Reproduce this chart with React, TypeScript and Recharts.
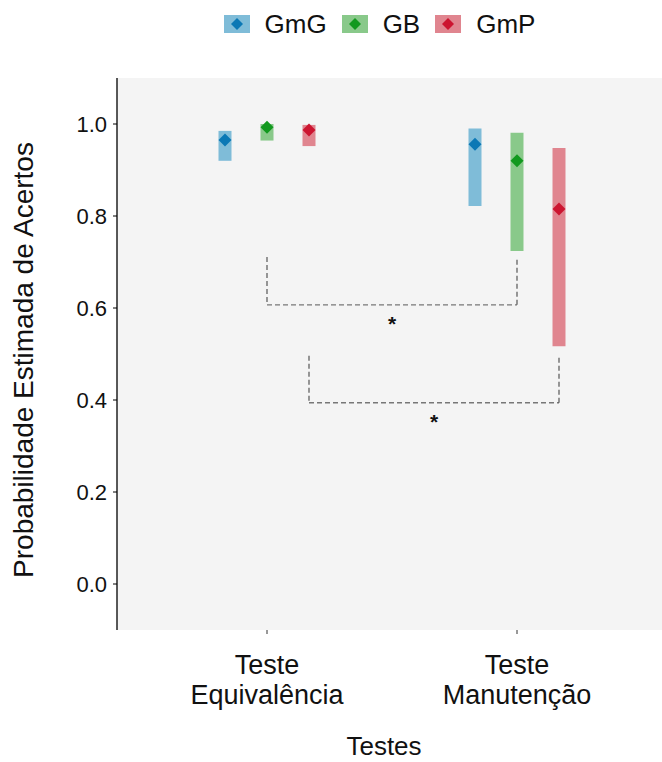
import React from 'react';
import { ComposedChart, Scatter, XAxis, YAxis, CartesianGrid, ReferenceArea, ReferenceLine, ReferenceDot, Label } from 'recharts';

// categories on the x axis (two lines each)
const tickLines = [
  ['Teste', 'Equivalência'],
  ['Teste', 'Manutenção'],
];
const categoryPos = [1, 2];

const groups = ['GmG', 'GB', 'GmP'];
const markColors = ['#0b78b5', '#12991f', '#cc1530'];
const barColors = ['#7fbcd8', '#89c98a', '#e0858f'];

// estimated probability (diamond) and interval (bar) per group, per test
const meanGmG = [0.965, 0.956];
const lowGmG = [0.92, 0.822];
const highGmG = [0.985, 0.99];

const meanGB = [0.993, 0.92];
const lowGB = [0.964, 0.724];
const highGB = [1.0, 0.981];

const meanGmP = [0.987, 0.815];
const lowGmP = [0.952, 0.517];
const highGmP = [0.998, 0.948];

const yTicks = [0, 0.2, 0.4, 0.6, 0.8, 1.0];

// significance brackets: which group is compared across the two tests
const bracketGroup = ['GB', 'GmP'];
const bracketTop = [0.711, 0.496];
const bracketBar = [0.607, 0.394];
const bracketStar = [0.576, 0.363];

const means = [meanGmG, meanGB, meanGmP];
const lows = [lowGmG, lowGB, lowGmP];
const highs = [highGmG, highGB, highGmP];

const DODGE = 0.168;
const HALF_BAR = 0.026;
const FONT = '"Liberation Sans", Arial, sans-serif';

const series = groups.map((g, gi) => ({
  name: g,
  color: markColors[gi],
  fill: barColors[gi],
  points: categoryPos.map((c, ci) => ({
    x: c + (gi - 1) * DODGE,
    y: means[gi][ci],
    low: lows[gi][ci],
    high: highs[gi][ci],
  })),
}));

const brackets = bracketGroup.map((g, i) => {
  const gi = groups.indexOf(g);
  const x1 = categoryPos[0] + (gi - 1) * DODGE;
  const x2 = categoryPos[1] + (gi - 1) * DODGE;
  return { x1, x2, top: bracketTop[i], bar: bracketBar[i], star: bracketStar[i] };
});

const Diamond = (props: any) => {
  const { cx, cy, fill } = props;
  const r = 6.5;
  return <polygon points={`${cx},${cy - r} ${cx + r},${cy} ${cx},${cy + r} ${cx - r},${cy}`} fill={fill} />;
};

const XTick = (props: any) => {
  const { x, y, payload } = props;
  const idx = categoryPos.indexOf(payload.value);
  const lines = tickLines[idx] || [];
  return (
    <text x={x} y={y} textAnchor="middle" fontSize={27} fill="#111" fontFamily={FONT}>
      <tspan x={x} dy={38}>{lines[0]}</tspan>
      <tspan x={x} dy={30}>{lines[1]}</tspan>
    </text>
  );
};

const YTitle = () => (
  <text x={33} y={360} transform="rotate(-90 33 360)" textAnchor="middle" fontSize={28} fill="#111" fontFamily={FONT}>
    Probabilidade Estimada de Acertos
  </text>
);

const XTitle = () => (
  <text x={384} y={755} textAnchor="middle" fontSize={26} fill="#111" fontFamily={FONT}>
    Testes
  </text>
);

const Star = (props: any) => (
  <text x={props.cx} y={props.cy + 12} textAnchor="middle" fontSize={21} fontWeight="bold" fill="#111" fontFamily={FONT}>
    *
  </text>
);

function ChartLegend() {
  return (
    <div style={{ position: 'absolute', top: 9, left: 0, width: 662, display: 'flex', justifyContent: 'center', fontFamily: FONT, fontSize: 26, lineHeight: '30px', color: '#111', paddingLeft: 112, boxSizing: 'border-box' }}>
      {series.map((s) => (
        <div key={s.name} style={{ display: 'flex', alignItems: 'center', marginRight: 15 }}>
          <svg width={26} height={18} style={{ marginRight: 15 }}>
            <rect x={0} y={0} width={26} height={18} fill={s.fill} />
            <polygon points="13,3 19,9 13,15 7,9" fill={s.color} />
          </svg>
          <span>{s.name}</span>
        </div>
      ))}
    </div>
  );
}

export default function App() {
  return (
    <div style={{ position: 'absolute', left: 0, top: 0, width: 662, height: 762, background: '#fff' }}>
      <ChartLegend />
      <ComposedChart width={662} height={762} margin={{ top: 78, right: 0, bottom: 0, left: 0 }}>
        <CartesianGrid fill="#f4f4f4" horizontal={false} vertical={false} />
        <XAxis
          type="number"
          dataKey="x"
          domain={[0.4, 2.58]}
          ticks={categoryPos}
          allowDataOverflow
          axisLine={false}
          tickLine={{ stroke: '#333' }}
          tickSize={4}
          height={132}
          tick={<XTick />}
          interval={0}
        >
          <Label content={<XTitle />} />
        </XAxis>
        <YAxis
          type="number"
          dataKey="y"
          domain={[-0.1, 1.1]}
          ticks={yTicks}
          allowDataOverflow
          width={117}
          axisLine={{ stroke: '#000', strokeWidth: 1.3 }}
          tickLine={{ stroke: '#000' }}
          tickSize={4}
          tickMargin={6}
          tickFormatter={(v: number) => v.toFixed(1)}
          tick={{ fontSize: 22, fill: '#111', fontFamily: FONT }}
        >
          <Label content={<YTitle />} />
        </YAxis>
        {series.map((s) =>
          s.points.map((p, i) => (
            <ReferenceArea
              key={`${s.name}-bar-${i}`}
              x1={p.x - HALF_BAR}
              x2={p.x + HALF_BAR}
              y1={p.low}
              y2={p.high}
              fill={s.fill}
              fillOpacity={1}
              stroke="none"
            />
          ))
        )}
        {brackets.map((b, i) => (
          <ReferenceLine key={`bl-${i}`} segment={[{ x: b.x1, y: b.top }, { x: b.x1, y: b.bar }]} stroke="#555" strokeDasharray="5 3" strokeWidth={1.2} />
        ))}
        {brackets.map((b, i) => (
          <ReferenceLine key={`bm-${i}`} segment={[{ x: b.x1, y: b.bar }, { x: b.x2, y: b.bar }]} stroke="#777" strokeDasharray="5 3" strokeWidth={1.3} />
        ))}
        {brackets.map((b, i) => (
          <ReferenceLine key={`br-${i}`} segment={[{ x: b.x2, y: b.bar }, { x: b.x2, y: b.top }]} stroke="#555" strokeDasharray="5 3" strokeWidth={1.2} />
        ))}
        {brackets.map((b, i) => (
          <ReferenceDot key={`bs-${i}`} x={(b.x1 + b.x2) / 2} y={b.star} r={0} shape={<Star />} />
        ))}
        {series.map((s) => (
          <Scatter key={s.name} name={s.name} data={s.points} fill={s.color} shape={<Diamond />} isAnimationActive={false} />
        ))}
      </ComposedChart>
    </div>
  );
}
